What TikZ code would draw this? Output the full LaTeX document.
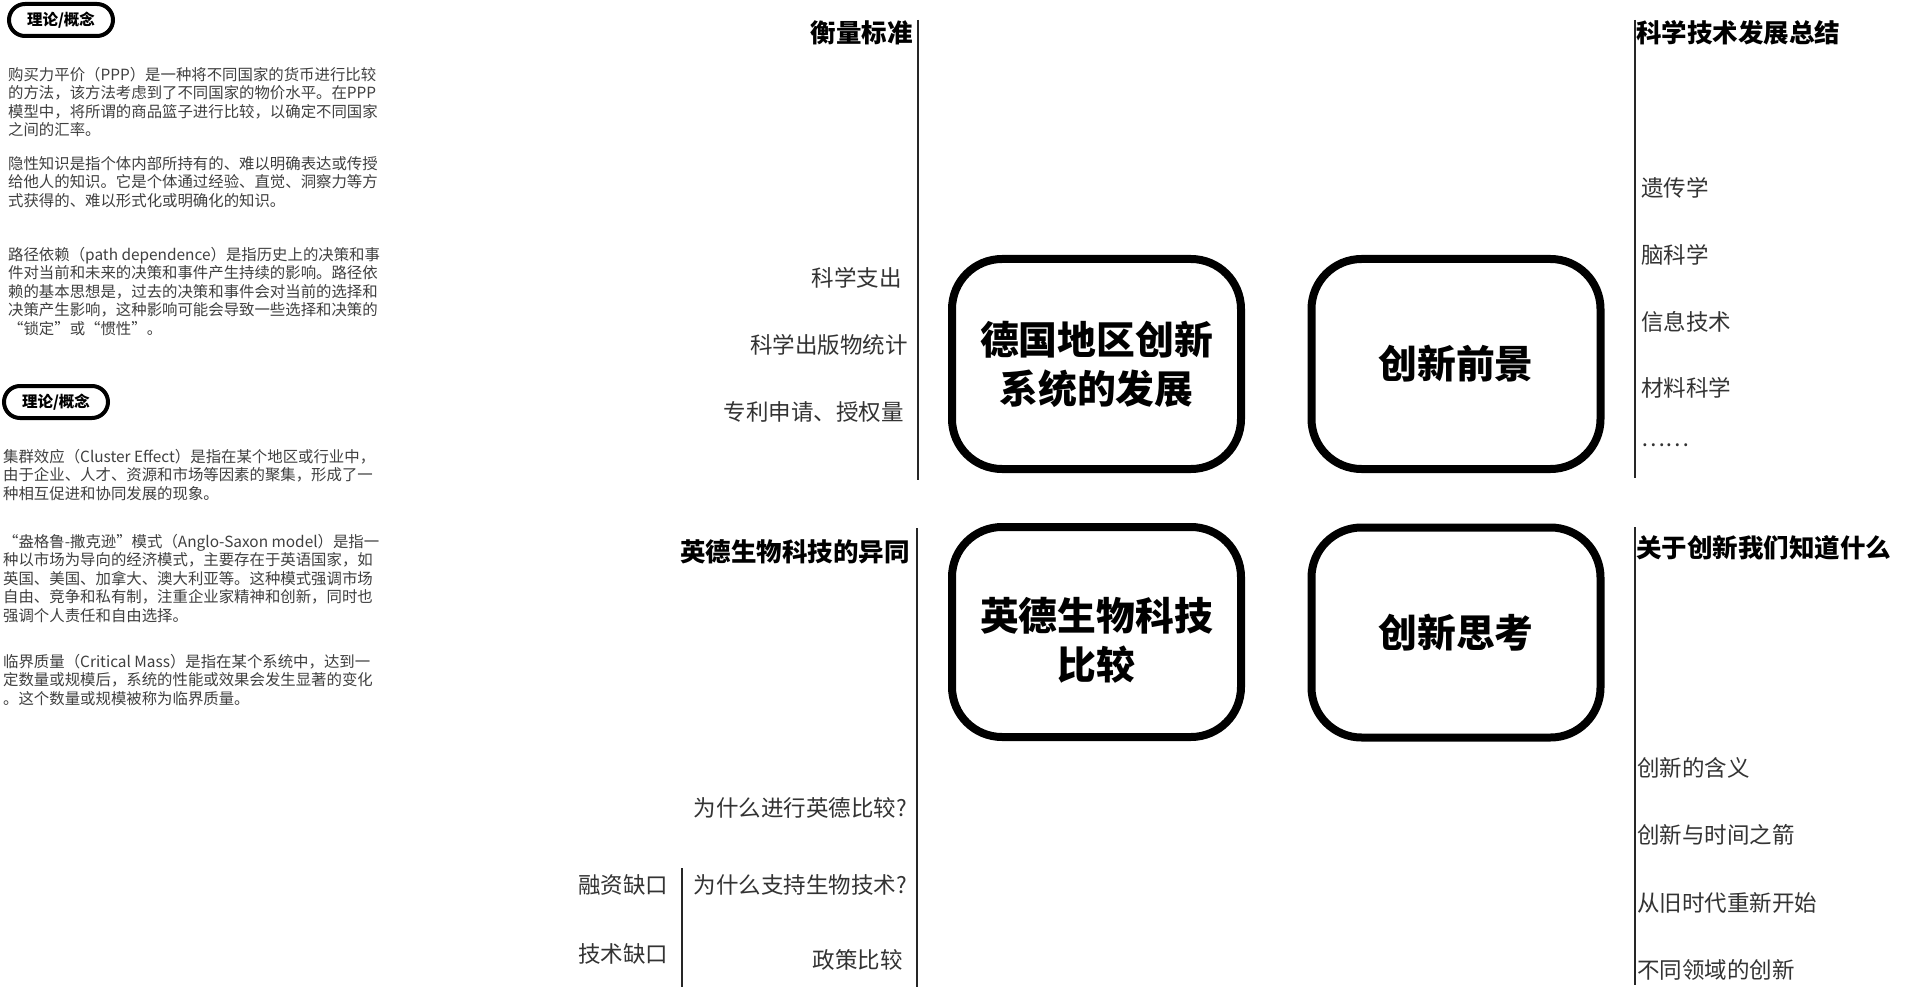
\documentclass[tikz,border=0pt]{standalone}
\usepackage{fontspec}
\setmainfont{Noto Sans CJK SC}

\begin{document}
\begin{tikzpicture}[x=1pt,y=-1pt,
  every node/.style={inner sep=0pt},
  card/.style={draw, line width=8pt, rounded corners=50pt, minimum width=289pt,
    minimum height=210pt, align=center, font=\bfseries\fontsize{38.8}{49}\selectfont},
  tag/.style={draw, line width=4pt, rounded corners=16pt, minimum width=104pt,
    minimum height=32pt, font=\bfseries\fontsize{15.5}{18}\selectfont},
  para/.style={anchor=north west, align=left, text=black!75,
    font=\fontsize{15.4}{18.5}\selectfont},
  head/.style={font=\bfseries\fontsize{25.5}{30}\selectfont},
  item/.style={text=black!80, font=\fontsize{22.5}{27}\selectfont},
  divider/.style={line width=1.5pt, black!85}]
  \path[fill=white,use as bounding box] (0,0) rectangle (1920,1003);

  % notes on the left
  \node[tag] (tag1) at (61,20) {理论/概念};
  \node[para] (ppp) at (8,67) {购买力平价（PPP）是一种将不同国家的货币进行比较\\
    的方法，该方法考虑到了不同国家的物价水平。在PPP\\
    模型中，将所谓的商品篮子进行比较，以确定不同国家\\
    之间的汇率。};
  \node[para] (tacit) at (8,156) {隐性知识是指个体内部所持有的、难以明确表达或传授\\
    给他人的知识。它是个体通过经验、直觉、洞察力等方\\
    式获得的、难以形式化或明确化的知识。};
  \node[para] (path) at (8,247) {路径依赖（path dependence）是指历史上的决策和事\\
    件对当前和未来的决策和事件产生持续的影响。路径依\\
    赖的基本思想是，过去的决策和事件会对当前的选择和\\
    决策产生影响，这种影响可能会导致一些选择和决策的\\
    “锁定”或“惯性”。};
  \node[tag] (tag2) at (56,402) {理论/概念};
  \node[para] (cluster) at (3,449) {集群效应（Cluster Effect）是指在某个地区或行业中，\\
    由于企业、人才、资源和市场等因素的聚集，形成了一\\
    种相互促进和协同发展的现象。};
  \node[para] (anglo) at (3,534) {“盎格鲁-撒克逊”模式（Anglo-Saxon model）是指一\\
    种以市场为导向的经济模式，主要存在于英语国家，如\\
    英国、美国、加拿大、澳大利亚等。这种模式强调市场\\
    自由、竞争和私有制，注重企业家精神和创新，同时也\\
    强调个人责任和自由选择。};
  \node[para] (mass) at (3,654) {临界质量（Critical Mass）是指在某个系统中，达到一\\
    定数量或规模后，系统的性能或效果会发生显著的变化\\
    。这个数量或规模被称为临界质量。};

  % the four cards
  \node[card] (german) at (1096.5,364) {德国地区创新\\系统的发展};
  \node[card] (outlook) at (1456,364) {创新前景};
  \node[card] (bio) at (1096.5,632) {\rule{0pt}{50pt}英德生物科技\\比较};
  \node[card] (think) at (1456,632.5) {创新思考};

  % upper left branch
  \draw[divider] (918,20) -- (918,480);
  \node[head,anchor=east] (measure) at (913,33) {衡量标准};
  \foreach \y/\r/\t [count=\i] in {278/902/科学支出,345/908/科学出版物统计,412/904/专利申请、授权量}
    \node[item,anchor=east] (measure\i) at (\r,\y) {\t};

  % lower left branch
  \draw[divider] (917,528) -- (917,987);
  \draw[divider] (682,868) -- (682,987);
  \node[head,anchor=east] (compare) at (910,552) {英德生物科技的异同};
  \node[item,anchor=east] (why1) at (907,808) {为什么进行英德比较?};
  \node[item,anchor=east] (why2) at (907,885) {为什么支持生物技术?};
  \node[item,anchor=east] (policy) at (903,960) {政策比较};
  \node[item,anchor=west] (gap1) at (578,885) {融资缺口};
  \node[item,anchor=west] (gap2) at (578,954) {技术缺口};

  % upper right branch
  \draw[divider] (1635,20) -- (1635,478);
  \node[head,anchor=west] (summary) at (1636,33) {科学技术发展总结};
  \foreach \y/\t [count=\i] in {188/遗传学,255/脑科学,322/信息技术,388/材料科学,445/……}
    \node[item,anchor=west] (field\i) at (1641,\y) {\t};

  % lower right branch
  \draw[divider] (1635,527) -- (1635,985);
  \node[head,anchor=west] (know) at (1636,548) {关于创新我们知道什么};
  \foreach \y/\t [count=\i] in {768/创新的含义,835/创新与时间之箭,903/从旧时代重新开始,970/不同领域的创新}
    \node[item,anchor=west] (idea\i) at (1637,\y) {\t};
\end{tikzpicture}
\end{document}
